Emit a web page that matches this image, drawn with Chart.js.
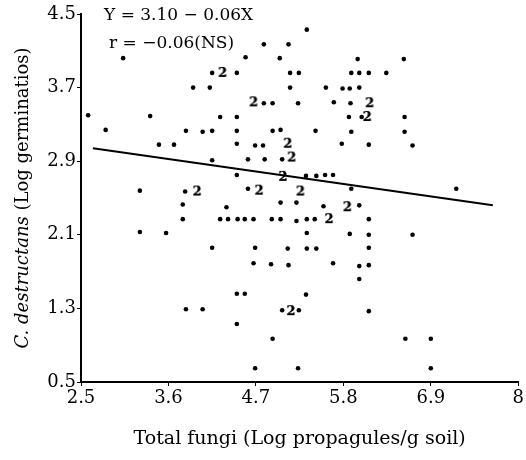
<!DOCTYPE html>
<html>
<head>
<meta charset="utf-8">
<script src="https://cdn.jsdelivr.net/npm/chart.js@4"></script>
<style>
  html, body { margin: 0; padding: 0; background: #fff; }
  #wrap { width: 526px; height: 460px; }
</style>
</head>
<body>
<div id="wrap"><canvas id="chart" width="526" height="460"></canvas></div>
<script>
// single observations (total fungi, C. destructans)
const fungiX = [
  2.59, 3.03, 2.81, 3.37, 3.48, 3.67, 3.82, 3.91, 5.34, 4.80, 5.11, 4.57, 5.00, 5.98, 6.56,
  4.15, 4.46, 5.13, 5.24, 5.90, 6.00, 6.12, 6.34, 4.12, 5.13, 5.58, 5.79, 5.88, 6.00,
  4.80, 4.91, 5.23, 5.68, 5.89, 5.87, 6.03, 6.57, 4.25, 4.46,
  4.03, 4.15, 4.46, 4.91, 5.01, 5.45, 5.90, 6.57, 4.46, 4.69, 4.79, 5.78, 6.12, 6.67,
  4.15, 4.60, 4.81, 5.03, 4.46, 5.33, 5.46, 5.57, 5.67, 5.90, 7.22, 3.81, 4.60, 3.24,
  3.78, 4.33, 5.01, 5.21, 5.55, 6.00, 3.78, 4.25, 4.35, 4.47, 4.56, 4.67, 4.90, 5.01,
  5.21, 5.34, 5.44, 6.12, 3.24, 3.57, 5.34, 5.88, 6.12, 6.67, 4.15, 4.69, 5.10, 5.34,
  5.46, 6.12, 4.67, 4.89, 5.11, 5.67, 6.00, 6.12, 6.00, 4.46, 4.56, 5.33, 3.82, 4.03,
  4.46, 5.03, 5.24, 4.91, 4.69, 5.23, 6.12, 6.58, 6.90, 6.90
];
const germY = [
  3.40, 4.02, 3.24, 3.39, 3.08, 3.08, 3.23, 3.70, 4.33, 4.17, 4.17, 4.03, 4.02, 4.01, 4.01,
  3.86, 3.86, 3.86, 3.86, 3.86, 3.86, 3.86, 3.86, 3.70, 3.70, 3.70, 3.69, 3.69, 3.70,
  3.53, 3.53, 3.53, 3.54, 3.53, 3.38, 3.38, 3.38, 3.38, 3.38,
  3.22, 3.23, 3.23, 3.23, 3.24, 3.23, 3.22, 3.22, 3.09, 3.07, 3.07, 3.09, 3.08, 3.07,
  2.91, 2.92, 2.92, 2.92, 2.75, 2.74, 2.74, 2.75, 2.75, 2.60, 2.60, 2.57, 2.60, 2.58,
  2.43, 2.40, 2.45, 2.45, 2.41, 2.42, 2.27, 2.27, 2.27, 2.27, 2.27, 2.27, 2.27, 2.27,
  2.25, 2.27, 2.27, 2.27, 2.13, 2.12, 2.12, 2.11, 2.10, 2.10, 1.96, 1.96, 1.95, 1.95,
  1.95, 1.96, 1.79, 1.78, 1.77, 1.79, 1.76, 1.77, 1.62, 1.46, 1.46, 1.45, 1.29, 1.29,
  1.13, 1.28, 1.28, 0.97, 0.65, 0.65, 1.27, 0.97, 0.97, 0.65
];

// places with two coinciding observations (plotted as "2")
const pairX = [4.28, 4.67, 6.13, 6.10, 5.10, 5.15, 5.04, 3.96, 4.74, 5.26, 5.85, 5.62, 5.14];
const pairY = [3.86, 3.54, 3.53, 3.38, 3.09, 2.94, 2.73, 2.57, 2.58, 2.57, 2.40, 2.27, 1.27];

// fitted line as drawn
const lineX = [2.65, 7.68];
const lineY = [3.04, 2.42];

const xTicks = [2.5, 3.6, 4.7, 5.8, 6.9, 8];
const yTicks = [0.5, 1.3, 2.1, 2.9, 3.7, 4.5];
const xTickLabels = ['2.5', '3.6', '4.7', '5.8', '6.9', '8'];
const yTickLabels = ['0.5', '1.3', '2.1', '2.9', '3.7', '4.5'];

const SERIF = '"DejaVu Serif", "Liberation Serif", serif';

// "2" glyph used as point style
const twoMark = document.createElement('canvas');
twoMark.width = 12;
twoMark.height = 14;
{
  const c = twoMark.getContext('2d');
  c.fillStyle = '#000';
  c.font = 'bold 13px ' + SERIF;
  c.textAlign = 'center';
  c.textBaseline = 'middle';
  c.fillText('2', 6, 7.5);
  c.fillText('2', 6, 7.5);
}

const textPlugin = {
  id: 'textPlugin',
  afterDraw(chart) {
    const ctx = chart.ctx;
    ctx.save();
    ctx.fillStyle = '#000';
    ctx.textBaseline = 'middle';

    // equation box
    ctx.font = '17px ' + SERIF;
    ctx.textAlign = 'left';
    ctx.fillText('Y = 3.10 \u2212 0.06X', 104, 16);
    ctx.fillText('r = \u22120.06(NS)', 109, 44);

    // y axis title with italic species name
    ctx.translate(23, 198);
    ctx.rotate(-Math.PI / 2);
    const a = 'C. destructans';
    const b = ' (Log germinatios)';
    ctx.font = 'italic 18px ' + SERIF;
    const wa = ctx.measureText(a).width;
    ctx.font = '18px ' + SERIF;
    const wb = ctx.measureText(b).width;
    let x0 = -(wa + wb) / 2;
    ctx.font = 'italic 18px ' + SERIF;
    ctx.fillText(a, x0, 0);
    ctx.font = '18px ' + SERIF;
    ctx.fillText(b, x0 + wa, 0);
    ctx.restore();
  }
};

new Chart(document.getElementById('chart'), {
  type: 'scatter',
  data: {
    datasets: [
      {
        label: 'fit',
        type: 'line',
        data: lineX.map((x, i) => ({ x: x, y: lineY[i] })),
        borderColor: '#000',
        borderWidth: 2,
        pointRadius: 0,
      },
      {
        label: 'single',
        data: fungiX.map((x, i) => ({ x: x, y: germY[i] })),
        backgroundColor: '#000',
        borderColor: '#000',
        pointRadius: 2.3,
        borderWidth: 0,
      },
      {
        label: 'pairs',
        data: pairX.map((x, i) => ({ x: x, y: pairY[i] })),
        pointStyle: twoMark,
      },
    ],
  },
  options: {
    responsive: false,
    animation: false,
    events: [],
    layout: { padding: { top: 14, right: 6, left: 0, bottom: 0 } },
    plugins: { legend: { display: false }, tooltip: { enabled: false } },
    scales: {
      x: {
        type: 'linear',
        min: 2.5,
        max: 8,
        afterFit(scale) { scale.height = 78; },
        afterBuildTicks(scale) { scale.ticks = xTicks.map(v => ({ value: v })); },
        ticks: {
          color: '#000',
          font: { family: SERIF, size: 18 },
          padding: 2,
          maxRotation: 0,
          callback: (v, i) => xTickLabels[i],
        },
        grid: { drawOnChartArea: false, color: '#000', tickLength: 4 },
        border: { color: '#000', width: 2 },
        title: {
          display: true,
          text: 'Total fungi (Log propagules/g soil)',
          color: '#000',
          font: { family: SERIF, size: 19 },
          padding: { top: 4, bottom: 10 },
        },
      },
      y: {
        type: 'linear',
        min: 0.5,
        max: 4.5,
        afterFit(scale) { scale.width = 81; },
        afterBuildTicks(scale) { scale.ticks = yTicks.map(v => ({ value: v })); },
        ticks: {
          color: '#000',
          font: { family: SERIF, size: 18 },
          padding: 1,
          callback: (v, i) => yTickLabels[i],
        },
        grid: { drawOnChartArea: false, color: '#000', tickLength: 4 },
        border: { color: '#000', width: 2 },
      },
    },
  },
  plugins: [textPlugin],
});
</script>
</body>
</html>
